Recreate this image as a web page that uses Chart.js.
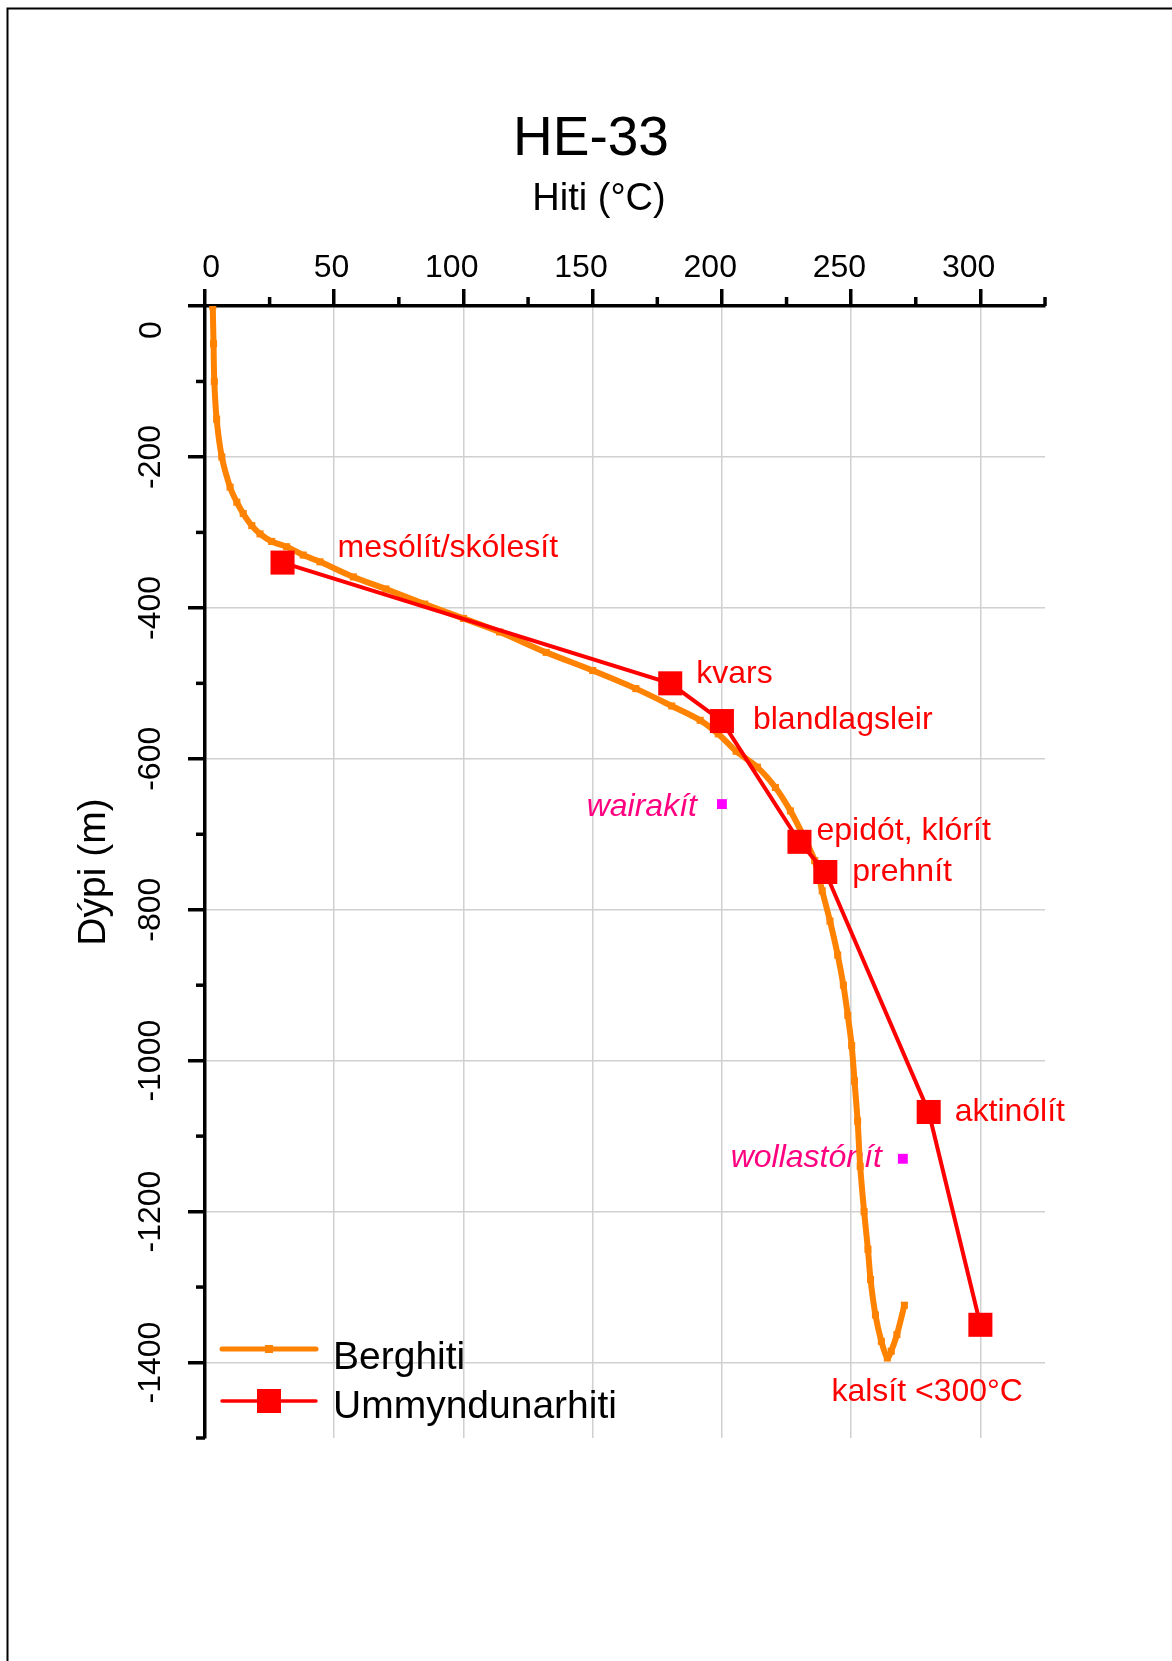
<!DOCTYPE html>
<html><head><meta charset="utf-8">
<script src="https://cdn.jsdelivr.net/npm/chart.js@4/dist/chart.umd.min.js"></script>
<style>html,body{margin:0;padding:0;background:#fff;}</style>
</head><body>
<canvas id="c" width="1172" height="1661"></canvas>
<script>
// ---- data ----
const bergTemp = [3,3.3,3.6,4.5,6.5,9.7,12.3,14.8,18.1,21.3,25.8,31.6,38,44.5,57.4,70,85,100,114,132,150,166.7,180.6,191.6,198.6,205.5,213.7,220.7,226.5,231.2,235.9,238.8,241.8,244.8,247,248.7,250.2,251.3,252.5,253.5,255,256.5,257.5,259.4,261.7,264,265.5,267.7,270.6];
const bergDepth = [0,-50,-100,-150,-200,-240,-260,-275,-291,-302,-312,-319,-330,-339,-359,-375,-395,-414,-432,-459,-483,-507,-530,-549,-567,-590,-611,-638,-669,-700,-735,-775,-815,-860,-900,-940,-980,-1027,-1080,-1140,-1200,-1250,-1290,-1337,-1372,-1394,-1385,-1363,-1324];
const ummTemp = [30,180,200,230,240,280,300];
const ummDepth = [-340,-500,-550,-710,-750,-1068,-1350];
const ummLabels = ['mesólít/skólesít','kvars','blandlagsleir','epidót, klórít','prehnít','aktinólít','kalsít <300°C'];
const extraTemp = [200,270];
const extraDepth = [-660,-1130];
const extraLabels = ['wairakít','wollastónít'];
const xMajorTicks = [0,50,100,150,200,250,300];
const xMinorTicks = [25,75,125,175,225,275,325];
const yMajorTicks = [0,-200,-400,-600,-800,-1000,-1200,-1400];
const yMinorTicks = [-100,-300,-500,-700,-900,-1100,-1300,-1500];
const seriesNames = ['Berghiti','Ummyndunarhiti'];
const chartTitle = 'HE-33';
const xTitle = 'Hiti (°C)';
const yTitle = 'Dýpi (m)';

// ---- styles ----
const FONT = '"Liberation Sans", Arial, sans-serif';
const ORANGE = '#FF8200', RED = '#FF0000', MAGENTA = '#FF00FF', PINK = '#FF0080';
const TICK_FONT = 32;
// label offsets (px) relative to marker: [dx, dyBaseline, align]
const ummLabelOffsets = [[55,-6,'left'],[26,0,'left'],[31,8,'left'],[17,-2,'left'],[27,9,'left'],[26,9,'left'],[-149,76,'left']];
const extraLabelOffsets = [[-25,12,'right'],[-21,8,'right']];

const toPts = (xs, ys) => xs.map((v,i)=>({x:v, y:ys[i]}));

const bgPlugin = {
  id:'bg',
  beforeDraw(chart){
    const ctx = chart.ctx;
    ctx.save();
    ctx.fillStyle = '#fff';
    ctx.fillRect(0,0,chart.width,chart.height);
    ctx.strokeStyle = '#000'; ctx.lineWidth = 2;
    ctx.beginPath(); ctx.moveTo(7.5, chart.height); ctx.lineTo(7.5, 8.5); ctx.lineTo(chart.width, 8.5); ctx.stroke();
    ctx.restore();
  }
};

const minorPlugin = {
  id:'minor',
  afterDraw(chart){
    const {x, y} = chart.scales; const ca = chart.chartArea; const ctx = chart.ctx;
    ctx.save(); ctx.strokeStyle = '#000'; ctx.lineWidth = 3.5;
    xMinorTicks.forEach(v => { const p = x.getPixelForValue(v); ctx.beginPath(); ctx.moveTo(p, ca.top); ctx.lineTo(p, ca.top - 9); ctx.stroke(); });
    yMinorTicks.forEach(v => { const p = y.getPixelForValue(v); ctx.beginPath(); ctx.moveTo(ca.left, p); ctx.lineTo(ca.left - 9, p); ctx.stroke(); });
    // the "0" depth label sits a little below its tick, as in the original
    ctx.fillStyle = '#000'; ctx.font = TICK_FONT + 'px ' + FONT; ctx.textAlign = 'center'; ctx.textBaseline = 'middle';
    ctx.translate(152.5, y.getPixelForValue(0) + 24); ctx.rotate(-Math.PI/2);
    ctx.fillText(String(yMajorTicks[0]), 0, 0);
    ctx.restore();
  }
};

const labelPlugin = {
  id:'labels',
  beforeDatasetsDraw(chart){
    const {x, y} = chart.scales; const ctx = chart.ctx;
    ctx.save();
    ctx.textBaseline = 'alphabetic';
    ctx.font = '32px ' + FONT; ctx.fillStyle = RED;
    ummLabels.forEach((t,i) => {
      const o = ummLabelOffsets[i];
      ctx.textAlign = o[2];
      ctx.fillText(t, x.getPixelForValue(ummTemp[i]) + o[0], y.getPixelForValue(ummDepth[i]) + o[1]);
    });
    ctx.font = 'italic 32px ' + FONT; ctx.fillStyle = PINK;
    extraLabels.forEach((t,i) => {
      const o = extraLabelOffsets[i];
      ctx.textAlign = o[2];
      ctx.fillText(t, x.getPixelForValue(extraTemp[i]) + o[0], y.getPixelForValue(extraDepth[i]) + o[1]);
    });
    ctx.restore();
  }
};

const titlePlugin = {
  id:'titles',
  afterDraw(chart){
    const ctx = chart.ctx;
    ctx.save(); ctx.fillStyle = '#000'; ctx.textAlign = 'center'; ctx.textBaseline = 'alphabetic';
    ctx.font = '55px ' + FONT; ctx.fillText(chartTitle, 591, 155);
    ctx.font = '38px ' + FONT; ctx.fillText(xTitle, 599, 210);
    ctx.restore();
  }
};

const legendPlugin = {
  id:'customLegend',
  afterDraw(chart){
    const ctx = chart.ctx;
    ctx.save();
    ctx.strokeStyle = ORANGE; ctx.lineWidth = 5; ctx.lineCap = 'round';
    ctx.beginPath(); ctx.moveTo(222, 1349); ctx.lineTo(316, 1349); ctx.stroke();
    ctx.fillStyle = ORANGE; ctx.fillRect(269-4, 1349-4, 8, 8);
    ctx.strokeStyle = RED; ctx.lineWidth = 3.5;
    ctx.beginPath(); ctx.moveTo(222, 1401); ctx.lineTo(316, 1401); ctx.stroke();
    ctx.fillStyle = RED; ctx.fillRect(269-12, 1401-12, 24, 24);
    ctx.fillStyle = '#000'; ctx.font = '39px ' + FONT; ctx.textAlign = 'left'; ctx.textBaseline = 'alphabetic';
    ctx.fillText(seriesNames[0], 333, 1369);
    ctx.fillText(seriesNames[1], 333, 1418);
    ctx.restore();
  }
};

new Chart(document.getElementById('c'), {
  type: 'scatter',
  data: {
    datasets: [
      { label: seriesNames[0], data: toPts(bergTemp, bergDepth), showLine: true, borderColor: ORANGE, backgroundColor: ORANGE,
        borderWidth: 6, tension: 0.3, pointStyle: 'rect', pointRadius: 5, pointBorderWidth: 0, order: 2 },
      { label: seriesNames[1], data: toPts(ummTemp, ummDepth), showLine: true, borderColor: RED, backgroundColor: RED,
        borderWidth: 4, tension: 0, pointStyle: 'rect', pointRadius: 17, pointBorderWidth: 0, order: 0 },
      { label: 'extra', data: toPts(extraTemp, extraDepth), showLine: false, backgroundColor: MAGENTA, borderColor: MAGENTA,
        pointStyle: 'rect', pointRadius: 7, pointBorderWidth: 0, order: 1 }
    ]
  },
  options: {
    responsive: false, animation: false, devicePixelRatio: 1,
    layout: { padding: { left: 0, top: 0, right: 127, bottom: 223 } },
    plugins: { legend: { display: false }, tooltip: { enabled: false }, title: { display: false } },
    scales: {
      x: {
        type: 'linear', position: 'top', min: 0, max: 325,
        afterFit: s => { s.height = 306; },
        ticks: { stepSize: 25, autoSkip: false, align: 'end', labelOffset: 15, padding: 2,
          font: { family: FONT, size: TICK_FONT }, color: '#000',
          callback: v => xMajorTicks.includes(v) ? String(v) : '' },
        grid: { drawOnChartArea: true, tickLength: 17, tickWidth: 3.5,
          tickColor: c => (c.tick && xMajorTicks.includes(c.tick.value)) ? '#000' : 'rgba(0,0,0,0)',
          color: c => (c.tick && xMajorTicks.includes(c.tick.value) && c.tick.value !== 0) ? '#d0d0d0' : 'rgba(0,0,0,0)',
          lineWidth: 1.5 },
        border: { display: true, color: '#000', width: 3.5 }
      },
      y: {
        type: 'linear', position: 'left', min: -1500, max: 0,
        afterFit: s => { s.width = 205; },
        title: { display: true, text: yTitle, font: { family: FONT, size: 39 }, color: '#000', padding: { top: 71, bottom: 0 } },
        ticks: { stepSize: 100, autoSkip: false, minRotation: 90, maxRotation: 90, crossAlign: 'center', padding: -4,
          font: { family: FONT, size: TICK_FONT }, color: '#000',
          callback: v => (yMajorTicks.includes(v) && v !== 0) ? String(v) : '' },
        grid: { drawOnChartArea: true, tickLength: 17, tickWidth: 3.5,
          tickColor: c => (c.tick && yMajorTicks.includes(c.tick.value)) ? '#000' : 'rgba(0,0,0,0)',
          color: c => (c.tick && yMajorTicks.includes(c.tick.value) && c.tick.value !== 0) ? '#d0d0d0' : 'rgba(0,0,0,0)',
          lineWidth: 1.5 },
        border: { display: true, color: '#000', width: 3.5 }
      }
    }
  },
  plugins: [bgPlugin, labelPlugin, minorPlugin, titlePlugin, legendPlugin]
});
</script>
</body></html>
